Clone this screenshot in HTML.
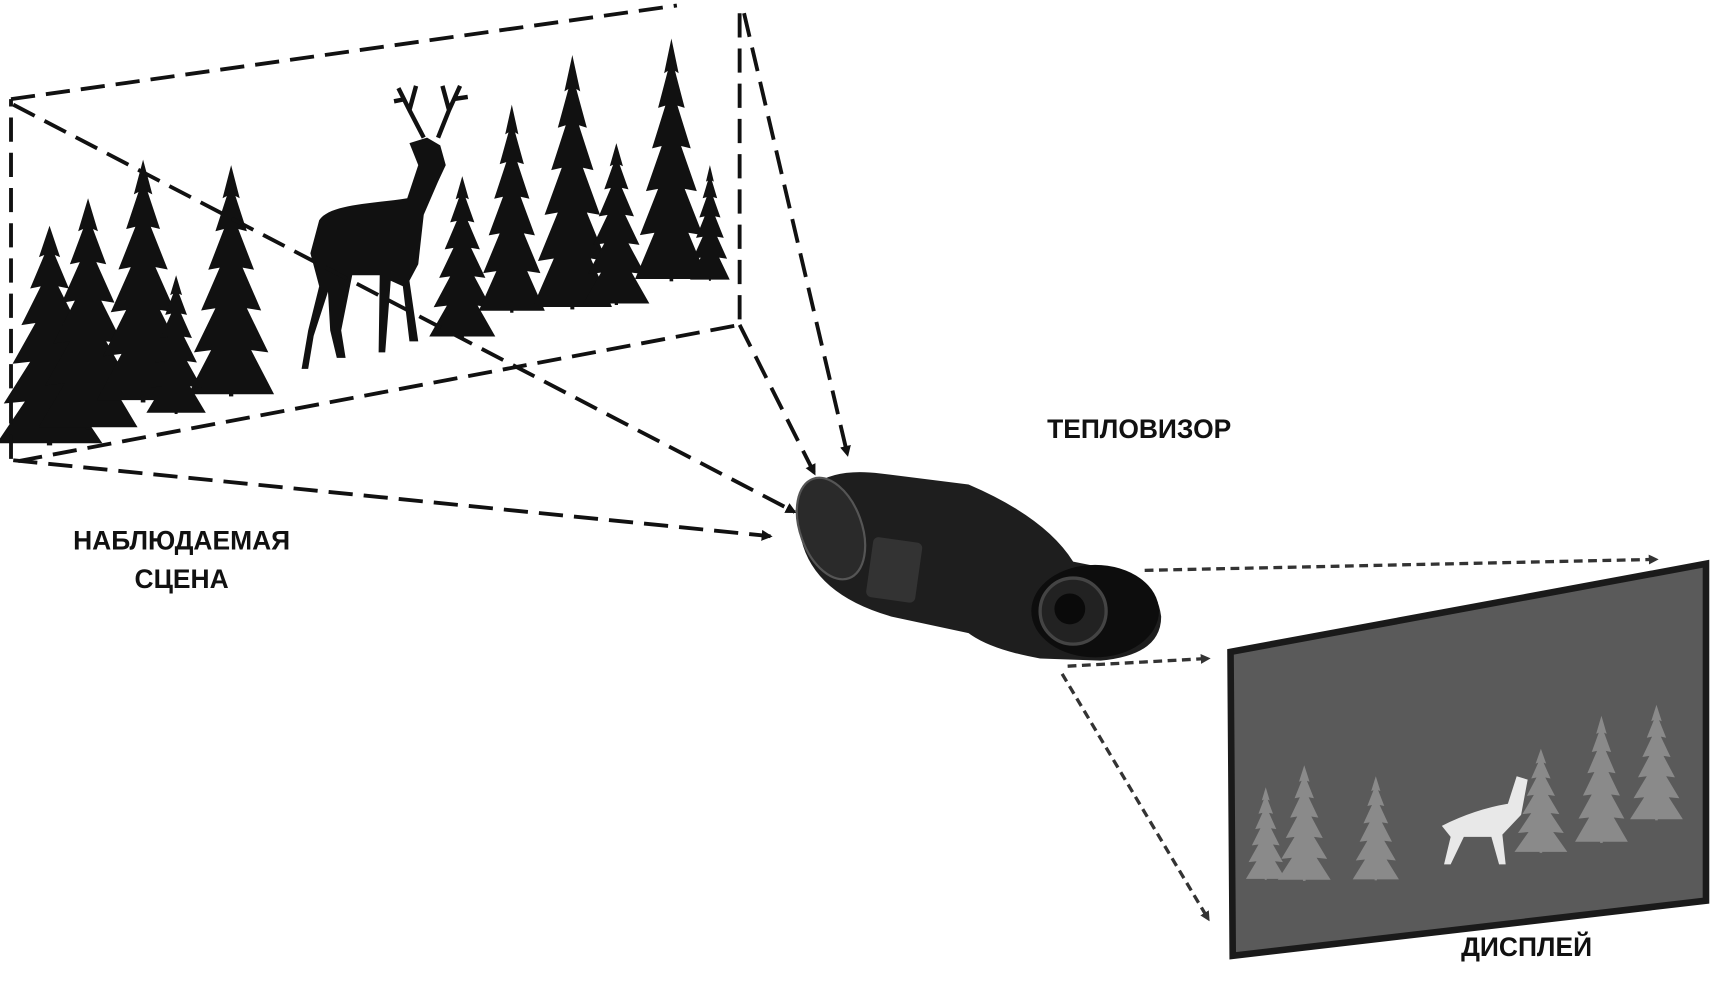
<!DOCTYPE html>
<html><head><meta charset="utf-8"><style>
html,body{margin:0;padding:0;background:#fff;width:1717px;height:991px;overflow:hidden}
svg{display:block}
text{font-family:"Liberation Sans","DejaVu Sans",sans-serif;font-weight:bold;fill:#111}
</style></head><body>
<svg width="1717" height="991" viewBox="0 0 1560 900" preserveAspectRatio="none">
<defs>
<g id="tree">
<rect x="-3" y="-10" width="6" height="20" />
<polygon points="0,-200 -12,-170 -6,-172 -22,-140 -10,-142 -32,-105 -16,-107 -42,-68 -22,-70 -52,-30 -28,-32 -60,8 60,8 28,-32 52,-30 22,-70 42,-68 16,-107 32,-105 10,-142 22,-140 6,-172 12,-170"/>
</g>
<marker id="ah" markerWidth="10" markerHeight="10" refX="8" refY="5" orient="auto" markerUnits="userSpaceOnUse"><path d="M0,0 L10,5 L0,10 z" fill="#111"/></marker>
<marker id="ah2" markerWidth="9" markerHeight="9" refX="7" refY="4.5" orient="auto" markerUnits="userSpaceOnUse"><path d="M0,0 L9,4.5 L0,9 z" fill="#333"/></marker>
</defs>

<g fill="#111">
<use href="#tree" transform="translate(45,395) scale(0.8,0.95)"/>
<use href="#tree" transform="translate(80,380) scale(0.75,1.0)"/>
<use href="#tree" transform="translate(130,355) scale(0.7,1.05)"/>
<use href="#tree" transform="translate(210,350) scale(0.65,1.0)"/>
<use href="#tree" transform="translate(160,370) scale(0.45,0.6)"/>
<use href="#tree" transform="translate(420,300) scale(0.5,0.7)"/>
<use href="#tree" transform="translate(465,275) scale(0.5,0.9)"/>
<use href="#tree" transform="translate(520,270) scale(0.6,1.1)"/>
<use href="#tree" transform="translate(560,270) scale(0.5,0.7)"/>
<use href="#tree" transform="translate(610,245) scale(0.55,1.05)"/>
<use href="#tree" transform="translate(645,250) scale(0.3,0.5)"/>
<path d="M290,200 C300,185 340,185 370,180 L380,150 L372,130 L388,125 L400,132 L405,150 L398,165 L385,195 L380,240 L372,255 L380,310 L372,310 L366,260 L355,255 L350,320 L344,320 L345,250 L320,250 L310,300 L314,325 L306,325 L300,300 L298,265 L285,305 L280,335 L274,335 L280,300 L290,260 L282,230 Z"/>
<path d="M385,125 L372,100 L362,80 M372,100 L378,78 M368,90 L358,92 M398,125 L408,100 L418,78 M408,100 L402,78 M412,90 L425,88" stroke="#111" stroke-width="4" fill="none"/>
</g>
<g stroke="#111" stroke-width="3.5" fill="none" stroke-dasharray="22,10">
<path d="M10,90 L615,5"/>
<path d="M672,12 L672,295 L10,420 L10,90"/>
<line x1="12" y1="95" x2="722" y2="465" marker-end="url(#ah)"/>
<line x1="12" y1="418" x2="700" y2="487" marker-end="url(#ah)"/>
<line x1="676" y1="12" x2="770" y2="413" marker-end="url(#ah)"/>
<line x1="672" y1="295" x2="740" y2="430" marker-end="url(#ah)"/>
</g>
<g>
<path d="M740,440 Q760,425 800,430 L880,440 Q950,470 975,510 L1000,515 Q1050,520 1055,560 Q1055,595 1000,600 L945,598 Q900,590 880,575 L810,560 Q740,540 728,490 Q725,455 740,440 Z" fill="#1e1e1e"/>
<ellipse cx="755" cy="480" rx="28" ry="48" transform="rotate(-20 755 480)" fill="#2a2a2a" stroke="#555" stroke-width="2"/>
<rect x="790" y="490" width="45" height="55" rx="5" fill="#333" transform="rotate(8 812 517)"/>
<ellipse cx="995" cy="555" rx="58" ry="42" fill="#0d0d0d"/>
<circle cx="975" cy="555" r="30" fill="#222" stroke="#444" stroke-width="3"/>
<circle cx="972" cy="553" r="14" fill="#0a0a0a"/>
</g>
<g stroke="#333" stroke-width="3" fill="none" stroke-dasharray="8,5">
<line x1="1040" y1="518" x2="1505" y2="508" marker-end="url(#ah2)"/>
<line x1="970" y1="605" x2="1098" y2="598" marker-end="url(#ah2)"/>
<line x1="965" y1="612" x2="1098" y2="835" marker-end="url(#ah2)"/>
</g>
<polygon points="1118,592 1550,512 1550,818 1120,868" fill="#5a5a5a" stroke="#1a1a1a" stroke-width="6"/>
<g fill="#8a8a8a">
<use href="#tree" transform="translate(1150,795) scale(0.3,0.4)"/>
<use href="#tree" transform="translate(1185,795) scale(0.4,0.5)"/>
<use href="#tree" transform="translate(1250,795) scale(0.35,0.45)"/>
<use href="#tree" transform="translate(1400,770) scale(0.4,0.45)"/>
<use href="#tree" transform="translate(1455,760) scale(0.4,0.55)"/>
<use href="#tree" transform="translate(1505,740) scale(0.4,0.5)"/>
</g>
<path d="M1310,750 Q1340,735 1370,730 L1378,705 L1388,708 L1382,740 L1365,758 L1368,785 L1362,785 L1355,760 L1330,760 L1318,785 L1312,785 L1318,760 Z" fill="#e8e8e8"/>
<text x="165" y="499" font-size="24" text-anchor="middle">НАБЛЮДАЕМАЯ</text>
<text x="165" y="534" font-size="24" text-anchor="middle">СЦЕНА</text>
<text x="1035" y="398" font-size="24" text-anchor="middle">ТЕПЛОВИЗОР</text>
<text x="1387" y="868" font-size="24" text-anchor="middle">ДИСПЛЕЙ</text>
</svg>
</body></html>
